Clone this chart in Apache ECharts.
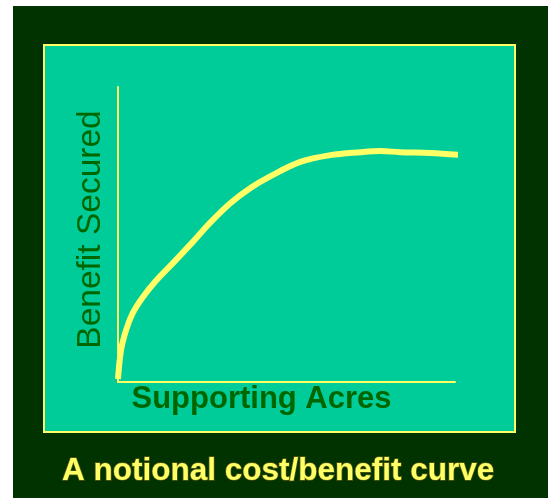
<!DOCTYPE html>
<html>
<head>
<meta charset="utf-8">
<script src="https://cdn.jsdelivr.net/npm/echarts@6/dist/echarts.min.js"></script>
<style>
  html, body { margin: 0; padding: 0; background: #ffffff; }
  #chart { width: 548px; height: 498px; }
</style>
</head>
<body>
<div id="chart"></div>
<script>
// Notional data (x: supporting acres, y: benefit secured, 0-100 scale)
const acres   = [0, 0.9, 2.4, 4.4, 7.4, 11.2, 16.3, 22.2, 27.5, 33.4, 39.3, 45.3, 54.1, 63.0, 71.9, 77.8, 83.7, 92.6, 102.4];
const benefit = [1, 10.8, 17.6, 23.4, 28.8, 34.2, 40.3, 47.5, 54.2, 60.7, 65.8, 69.8, 74.6, 76.9, 77.9, 78.3, 77.9, 77.6, 76.9];
const titleText = 'A notional cost/benefit curve';
const xName = 'Supporting Acres';
const yName = 'Benefit Secured';

const points = acres.map((a, i) => [a, benefit[i]]);

const chart = echarts.init(document.getElementById('chart'), null, { renderer: 'canvas' });
chart.setOption({
  backgroundColor: '#ffffff',
  animation: false,
  graphic: [
    { type: 'rect', z: -10, shape: { x: 13, y: 6, width: 535, height: 492 }, style: { fill: '#003300' } },
    { type: 'rect', z: -9, shape: { x: 44, y: 45, width: 471, height: 387 }, style: { fill: '#00CC99', stroke: '#FFFF66', lineWidth: 2 } }
  ],
  title: {
    text: titleText,
    left: 62,
    top: 455,
    padding: 0,
    textStyle: {
      fontFamily: 'Liberation Sans, Arial, sans-serif',
      fontWeight: 'bold',
      fontSize: 31.5,
      color: '#FFFF66',
      textBorderColor: '#5a5a10',
      textBorderWidth: 1.5
    }
  },
  grid: { left: 118, top: 87, right: 93, bottom: 116, containLabel: false },
  xAxis: {
    type: 'value',
    min: 0, max: 100,
    name: xName,
    nameLocation: 'middle',
    nameGap: 2,
    nameTextStyle: {
      fontFamily: 'Liberation Sans, Arial, sans-serif',
      fontWeight: 'bold',
      fontSize: 31,
      color: '#006600',
      verticalAlign: 'top',
      padding: [0, 50, 0, 0]
    },
    axisLine: { show: true, lineStyle: { color: '#FFFF66', width: 2 } },
    axisTick: { show: false },
    axisLabel: { show: false },
    splitLine: { show: false }
  },
  yAxis: {
    type: 'value',
    min: 0, max: 100,
    name: yName,
    nameLocation: 'middle',
    nameGap: 10,
    nameTextStyle: {
      fontFamily: 'Liberation Sans, Arial, sans-serif',
      fontSize: 33.5,
      color: '#006600',
      padding: [0, 0, 0, 10]
    },
    axisLine: { show: true, lineStyle: { color: '#FFFF66', width: 2 } },
    axisTick: { show: false },
    axisLabel: { show: false },
    splitLine: { show: false }
  },
  series: [{
    type: 'line',
    data: points,
    smooth: 0.35,
    clip: false,
    symbol: 'none',
    lineStyle: { color: '#FFFF66', width: 6, cap: 'butt' }
  }]
});
</script>
</body>
</html>
